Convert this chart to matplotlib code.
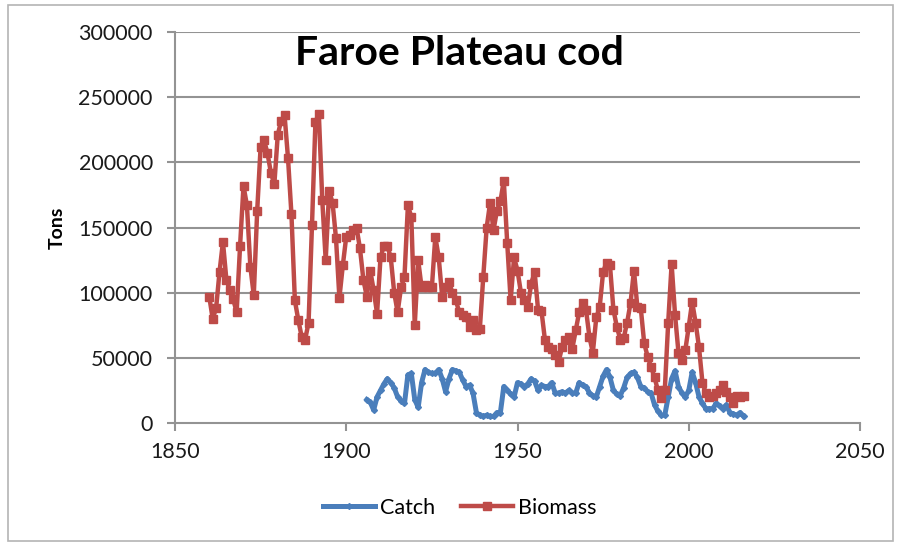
import matplotlib
matplotlib.use("Agg")
import matplotlib.pyplot as plt
from matplotlib.patches import Rectangle

# ---------------- data ----------------
biomass_start = 1860
biomass = [
    97000, 80000, 88000, 116000, 139000, 110000, 102000, 95000, 85000, 136000,   # 1860-1869
    182000, 167000, 120000, 98000, 163000, 212000, 217000, 207000, 192000, 183000,  # 1870-1879
    221000, 232000, 236000, 203000, 160000, 94000, 79000, 66000, 64000, 77000,   # 1880-1889
    152000, 231000, 237000, 171000, 125000, 178000, 169000, 142000, 96000, 121000,  # 1890-1899
    143000, 144000, 148000, 150000, 134000, 110000, 97000, 117000, 102000, 84000,  # 1900-1909
    127000, 136000, 136000, 127000, 100000, 85000, 104000, 112000, 167000, 158000,  # 1910-1919
    75000, 125000, 104000, 106000, 104000, 104000, 143000, 127000, 97000, 104000,   # 1920-1929
    108000, 100000, 94000, 85000, 83000, 81000, 74000, 79000, 71000, 72000,        # 1930-1939
    112000, 150000, 169000, 148000, 163000, 170000, 186000, 138000, 94000, 127000,  # 1940-1949
    117000, 100000, 94000, 89000, 107000, 116000, 87000, 86000, 64000, 58000,      # 1950-1959
    57000, 52000, 47000, 58000, 64000, 66000, 57000, 71000, 85000, 92000,          # 1960-1969
    87000, 66000, 54000, 81000, 89000, 116000, 123000, 121000, 87000, 74000,       # 1970-1979
    64000, 65000, 77000, 92000, 117000, 89000, 88000, 61000, 51000, 43000,         # 1980-1989
    35000, 25000, 19000, 25000, 77000, 122000, 83000, 54000, 48000, 56000,         # 1990-1999
    74000, 93000, 77000, 58000, 31000, 23000, 20000, 21000, 23000, 25000,          # 2000-2009
    29000, 24000, 20000, 15000, 21000, 20000, 21000,                               # 2010-2016
]
biomass_years = list(range(biomass_start, biomass_start + len(biomass)))

catch_start = 1906
catch = [
    18000, 16000, 10000, 20000,                                                    # 1906-1909
    25000, 30000, 34000, 31000, 27000, 20000, 17000, 15000, 37000, 38000,          # 1910-1919
    18000, 12000, 31000, 41000, 39000, 38000, 38000, 41000, 34000, 24000,          # 1920-1929
    34000, 41000, 40000, 39000, 33000, 28000, 29000, 23000, 8000, 6000,            # 1930-1939
    5000, 6000, 5000, 5000, 8000, 8000, 28000, 25000, 22000, 20000,                # 1940-1949
    31000, 30000, 28000, 30000, 34000, 32000, 25000, 29000, 28000, 28000,          # 1950-1959
    31000, 23000, 23000, 24000, 23000, 25000, 23000, 23000, 31000, 29000,          # 1960-1969
    28000, 23000, 21000, 20000, 28000, 36000, 41000, 35000, 25000, 22000,          # 1970-1979
    21000, 27000, 35000, 38000, 39000, 35000, 28000, 27000, 24000, 23000,          # 1980-1989
    14000, 9000, 6000, 6000, 20000, 34000, 40000, 28000, 23000, 20000,             # 1990-1999
    25000, 39000, 31000, 20000, 15000, 11000, 11000, 11000, 15000, 13000,          # 2000-2009
    11000, 14000, 8000, 7000, 6000, 8000, 5000,                                    # 2010-2016
]
catch_years = list(range(catch_start, catch_start + len(catch)))

title = "Faroe Plateau cod"
y_label = "Tons"
x_ticks = [1850, 1900, 1950, 2000, 2050]
y_ticks = [0, 50000, 100000, 150000, 200000, 250000, 300000]

# ---------------- figure ----------------
W, H = 898, 544
fig = plt.figure(figsize=(W / 100, H / 100), dpi=100)
plt.rcParams['font.family'] = ['Lato', 'DejaVu Sans']

# outer chart border
fig.patches.append(Rectangle((8 / W, 1 - 541 / H), (893 - 8) / W, (541 - 5) / H,
                             transform=fig.transFigure, fill=False,
                             edgecolor='#b4b4b4', linewidth=1.2))

ax = fig.add_axes([175 / W, 1 - 423 / H, (860 - 175) / W, (423 - 32) / H])

grid_c = '#939393'
ax.set_xlim(1850, 2050)
ax.set_ylim(0, 300000)
ax.set_xticks(x_ticks)
ax.set_yticks(y_ticks)
ax.set_xticklabels([str(t) for t in x_ticks])
ax.set_yticklabels([str(t) for t in y_ticks])

for t in y_ticks[1:]:
    ax.axhline(t, color=grid_c, linewidth=1.5, zorder=0)

for s in ['top', 'right']:
    ax.spines[s].set_visible(False)
for s in ['left', 'bottom']:
    ax.spines[s].set_color(grid_c)
    ax.spines[s].set_linewidth(1.5)

ax.tick_params(axis='both', direction='out', colors=grid_c, length=6, width=1.5,
               labelsize=15.5, labelcolor='#1a1a1a')
ax.tick_params(axis='y', pad=10)
ax.tick_params(axis='x', pad=8)

ax.plot(catch_years, catch, color='#4a7ebb', linewidth=3.6, marker='D',
        markersize=3, label='Catch', zorder=3, solid_joinstyle='round')
ax.plot(biomass_years, biomass, color='#be4b48', linewidth=3.2, marker='s',
        markersize=6, label='Biomass', zorder=4)

ax.text(0.415, 0.945, title, transform=ax.transAxes, ha='center', va='center',
        fontsize=29.5, fontweight='bold', color='black')

ax.set_ylabel(y_label, fontsize=14, fontweight='bold', color='black')
ax.yaxis.set_label_coords(-0.16, 0.5)

fig.legend(loc='center', bbox_to_anchor=(460 / W, 1 - 508 / H), ncol=2,
           frameon=False, fontsize=15.5, handlelength=2.4, handletextpad=0.25,
           columnspacing=1.2)

fig.savefig('out.png', dpi=100)
